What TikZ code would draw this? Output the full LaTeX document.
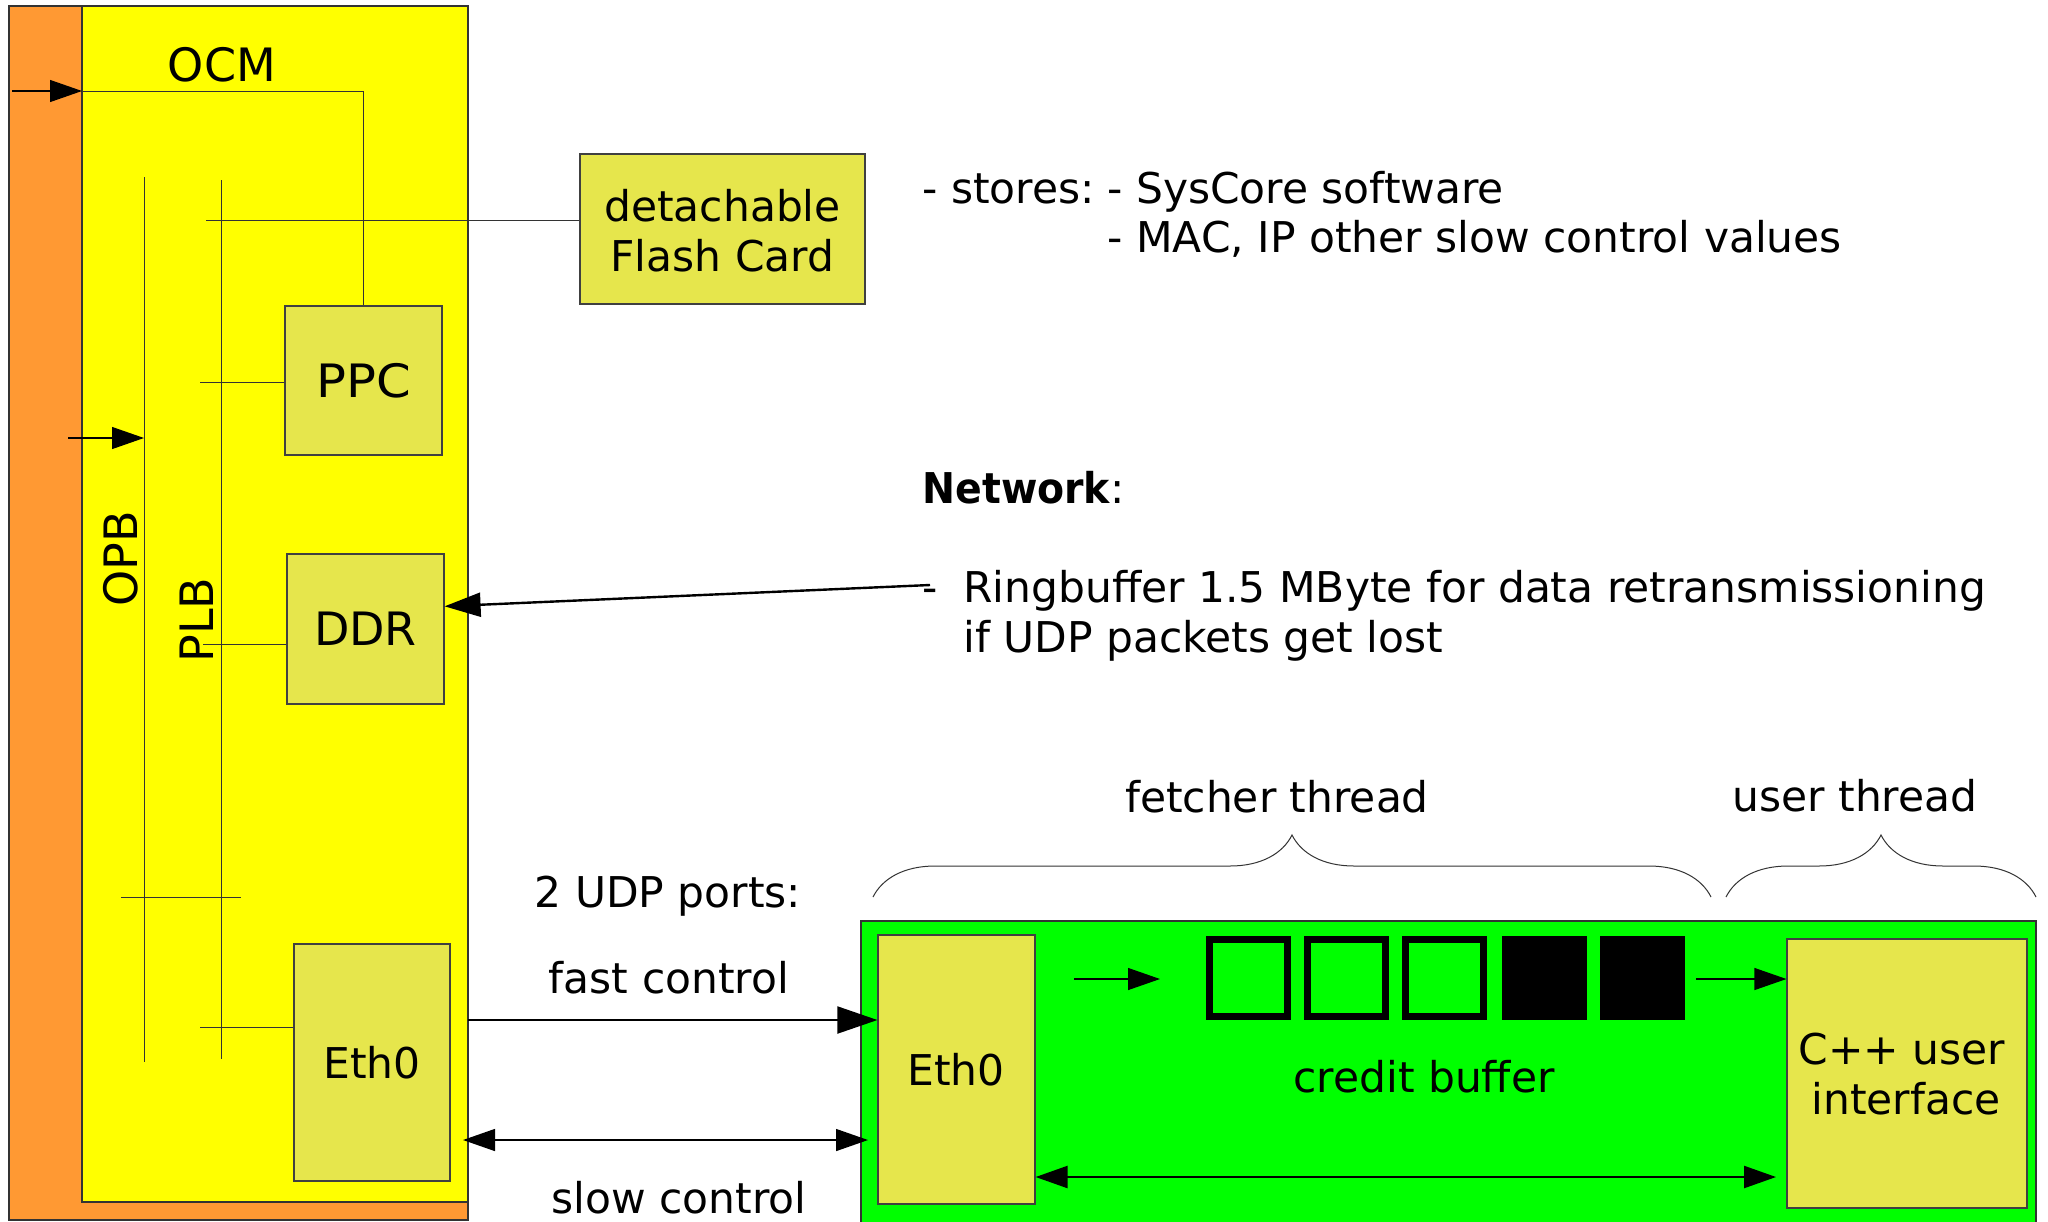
\documentclass[tikz,border=0pt]{standalone}
\usepackage{fontspec}
\usepackage{graphicx}
\setmainfont{DejaVu Sans}
\usetikzlibrary{fit,arrows.meta,decorations.pathreplacing,calc}
\definecolor{orangec}{RGB}{255,153,51}
\definecolor{yellowc}{RGB}{255,255,0}
\definecolor{boxc}{RGB}{230,230,76}
\definecolor{greenc}{RGB}{0,255,0}
\begin{document}
\begin{tikzpicture}[x=0.5pt,y=-0.5pt,
  font=\fontsize{21.2pt}{25pt}\selectfont,
  area/.style={draw=black!80, line width=0.7pt, inner sep=0pt},
  box/.style={draw=black!75, line width=0.6pt, fill=boxc, inner sep=0pt},
  wire/.style={draw=black!80, line width=0.5pt},
  txt/.style={inner sep=0pt, anchor=base},
  bigtxt/.style={inner sep=0pt, anchor=base, font=\fontsize{23pt}{27pt}\selectfont},
  lefttxt/.style={inner sep=0pt, anchor=base west},
  bigarrow/.style={-{Triangle[length=16pt,width=11pt]}, line width=0.6pt},
  fastarrow/.style={-{Triangle[length=20pt,width=13.5pt]}, line width=1pt},
  netarrow/.style={-{Triangle[length=18pt,width=12pt]}, line width=1.2pt},
  dblarrow/.style={{Triangle[length=16pt,width=11pt]}-{Triangle[length=16pt,width=11pt]}, line width=0.7pt},
  thickdbl/.style={{Triangle[length=16pt,width=11pt]}-{Triangle[length=16pt,width=11pt]}, line width=1.2pt},
  emptyslot/.style={draw=black, line width=3.5pt, fill=greenc, minimum width=39pt, minimum height=38.5pt, inner sep=0pt},
  fullslot/.style={fill=black, minimum width=42.5pt, minimum height=42pt, inner sep=0pt},
  bracestyle/.style={draw=black!80, line width=0.5pt, decorate, decoration={brace, amplitude=31pt}}
]
\useasboundingbox (0,0) rectangle (2048,1221);

% FPGA areas
\node[area, fill=orangec, fit={(9,6) (468,1220)}] (fpga) {};
\node[area, fill=yellowc, fit={(82,6) (468,1202)}] (core) {};

% boxes inside
\node[box, fit={(285,306) (442,455)}] (ppc) {};
\node[box, fit={(287,554) (444,704)}] (ddr) {};
\node[box, fit={(294,944) (450,1181)}] (eth) {};
\node[box, fit={(580,154) (865,304)}] (flash) {};
\node[bigtxt] (ppct) at (363.5,397) {\scalebox{1.08}[1]{PPC}};
\node[bigtxt] (ddrt) at (365.5,645) {DDR};
\node[txt] (etht) at (372,1078) {Eth0};
\node[txt] (flasht1) at (722.5,221) {detachable};
\node[txt] (flasht2) at (722.5,271) {Flash Card};

% OCM
\node[bigtxt] (ocm) at (222,81) {OCM};
\coordinate (ocmin) at (12,91);
\coordinate (ocmjoin) at (82,91);
\draw[bigarrow] (ocmin) -- (ocmjoin);
\draw[wire] (ocmjoin) -| (ppc.north);

% buses
\coordinate (opbtop) at (144,177);
\coordinate (opbbot) at (144,1062);
\coordinate (plbtop) at (221,180);
\coordinate (plbbot) at (221,1059);
\draw[wire] (opbtop) -- (opbbot);
\draw[wire] (plbtop) -- (plbbot);
\node[bigtxt, rotate=90] (opb) at (137,559) {OPB};
\node[bigtxt, rotate=90] (plb) at (213,620) {PLB};
\coordinate (opbin) at (68,438);
\draw[bigarrow] (opbin) -- (opbin -| opbtop);

% taps
\coordinate (flst) at (206,220);
\draw[wire] (flst) -- (flst -| flash.west);
\coordinate (ppcst) at (200,382);
\draw[wire] (ppcst) -- (ppcst -| ppc.west);
\coordinate (ddrst) at (203,644);
\draw[wire] (ddrst) -- (ddrst -| ddr.west);
\coordinate (crossl) at (121,897);
\coordinate (crossr) at (241,897);
\draw[wire] (crossl) -- (crossr);
\coordinate (ethst) at (200,1027);
\draw[wire] (ethst) -- (ethst -| eth.west);

% stores text
\node[lefttxt] (stl) at (922,203) {- stores:};
\node[lefttxt] (sw1) at (1107,203) {- SysCore software};
\node[lefttxt] (sw2) at (1107,252) {- MAC, IP other slow control values};

% network text
\node[lefttxt] (net) at (922,503) {\scalebox{0.93}[1]{\textbf{Network}}:};
\node[lefttxt] (rbd) at (922,602) {-};
\node[lefttxt] (rb1) at (963,602) {Ringbuffer 1.5 MByte for data retransmissioning};
\node[lefttxt] (rb2) at (963,652) {if UDP packets get lost};
\coordinate (rbstart) at (930,585);
\draw[netarrow] (rbstart) -- ($(ddr.north east)!0.35!(ddr.south east)$);

% host side
\node[area, fill=greenc, fit={(861,921) (2036,1230)}] (host) {};
\node[box, fit={(878,935) (1035,1204)}] (eth2) {};
\node[box, fit={(1787,939) (2027,1208)}] (cpp) {};
\node[txt] (eth2t) at (956,1085) {Eth0};
\node[txt] (cppt1) at (1902,1064) {C++ user};
\node[txt] (cppt2) at (1906,1114) {interface};

\node[emptyslot] (sq1) at (1248.5,978) {};
\node[emptyslot] (sq2) at (1346.5,978) {};
\node[emptyslot] (sq3) at (1444.5,978) {};
\node[fullslot] (sq4) at (1544.5,978) {};
\node[fullslot] (sq5) at (1642.5,978) {};
\node[txt] (credit) at (1424,1092) {credit buffer};

\coordinate (inA) at (1074,979);
\coordinate (inB) at (1160,979);
\draw[bigarrow] (inA) -- (inB);
\coordinate (outA) at (1696,979);
\draw[bigarrow] (outA) -- (outA -| cpp.west);
\coordinate (backR) at (1776,1177);
\draw[thickdbl] (backR -| eth2.east) -- (backR);

% links
\node[txt] (udp) at (668,907) {2 UDP ports:};
\node[txt] (fast) at (669,993) {fast control};
\node[txt] (slow) at (679,1213) {slow control};
\coordinate (fastst) at (468,1020);
\draw[fastarrow] (fastst) -- (fastst -| eth2.west);
\coordinate (slowL) at (463,1140);
\coordinate (slowR) at (868,1140);
\draw[dblarrow] (slowL) -- (slowR);

% braces
\coordinate (fb1) at (873,897);
\coordinate (fb2) at (1711,897);
\draw[bracestyle] (fb1) -- (fb2);
\coordinate (ub1) at (1726,897);
\coordinate (ub2) at (2036,897);
\draw[bracestyle] (ub1) -- (ub2);
\node[txt] (fetch) at (1277,812) {fetcher thread};
\node[txt] (user) at (1855,811) {user thread};
\end{tikzpicture}
\end{document}
